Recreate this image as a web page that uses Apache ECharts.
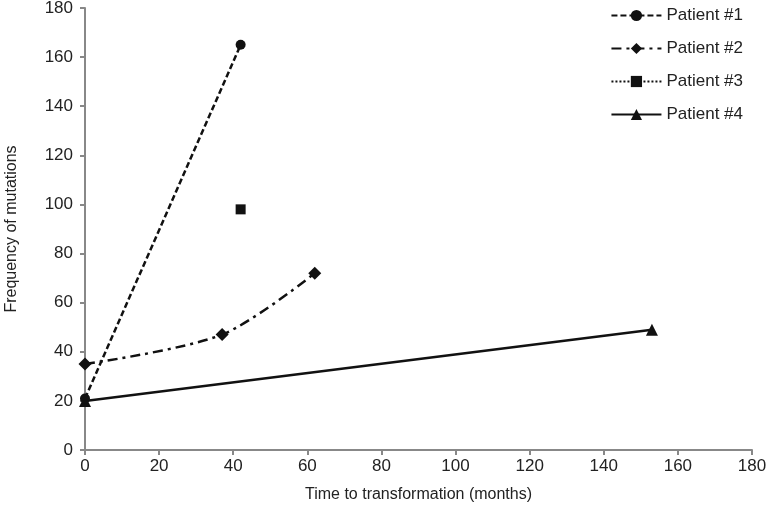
<!DOCTYPE html>
<html><head><meta charset="utf-8">
<script src="https://cdn.jsdelivr.net/npm/echarts@6/dist/echarts.min.js"></script>
<style>html,body{margin:0;padding:0;background:#fff}#c{width:766px;height:520px}</style>
</head><body><div id="c"></div>
<script>
const seriesNames = ['Patient #1', 'Patient #2', 'Patient #3', 'Patient #4'];
const patient1 = [[0, 21], [42, 165]];
const patient2 = [[0, 35], [37, 47], [62, 72]];
const patient3 = [[42, 98]];
const patient4 = [[0, 20], [153, 49]];
const xTitle = 'Time to transformation (months)';
const yTitle = 'Frequency of mutations';

const font = 'Liberation Sans, Arial, sans-serif';
const chart = echarts.init(document.getElementById('c'));
chart.setOption({
  animation: false,
  grid: { left: 85, right: 14, top: 8, bottom: 70, outerBoundsMode: 'none', containLabel: false },
  legend: {
    right: 18, top: 2, orient: 'vertical', itemGap: 16, itemWidth: 50, itemHeight: 14,
    textStyle: { fontFamily: font, fontSize: 17, color: '#222' },
    data: seriesNames
  },
  xAxis: {
    type: 'value', min: 0, max: 180, interval: 20,
    name: xTitle, nameLocation: 'middle', nameGap: 37,
    nameTextStyle: { fontFamily: font, fontSize: 16, color: '#222' },
    axisLine: { lineStyle: { color: '#888', width: 2 } },
    axisTick: { show: true, length: 5, lineStyle: { color: '#888', width: 2 } },
    axisLabel: { fontFamily: font, fontSize: 17, color: '#222', margin: 8 },
    splitLine: { show: false }
  },
  yAxis: {
    type: 'value', min: 0, max: 180, interval: 20,
    name: yTitle, nameLocation: 'middle', nameGap: 65, nameRotate: 90,
    nameTextStyle: { fontFamily: font, fontSize: 16, color: '#222' },
    axisLine: { show: true, lineStyle: { color: '#888', width: 2 } },
    axisTick: { show: true, length: 5, lineStyle: { color: '#888', width: 2 } },
    axisLabel: { fontFamily: font, fontSize: 17, color: '#222', margin: 12 },
    splitLine: { show: false }
  },
  series: [
    { name: seriesNames[0], type: 'line', data: patient1, symbol: 'circle', symbolSize: 10,
      itemStyle: { color: '#111' }, lineStyle: { color: '#111', width: 2.5, type: [6, 3] }, z: 4 },
    { name: seriesNames[1], type: 'line', data: patient2, symbol: 'diamond', symbolSize: 13, smooth: 0.3,
      itemStyle: { color: '#111' }, lineStyle: { color: '#111', width: 2.5, type: [10, 5, 3, 5] }, z: 3 },
    { name: seriesNames[2], type: 'line', data: patient3, symbol: 'rect', symbolSize: 10,
      itemStyle: { color: '#111' }, lineStyle: { color: '#111', width: 2.5, type: [2, 2] }, z: 3 },
    { name: seriesNames[3], type: 'line', data: patient4, symbol: 'triangle', symbolSize: 12,
      itemStyle: { color: '#111' }, lineStyle: { color: '#111', width: 2.5, type: 'solid' }, z: 2 }
  ]
});
</script></body></html>
